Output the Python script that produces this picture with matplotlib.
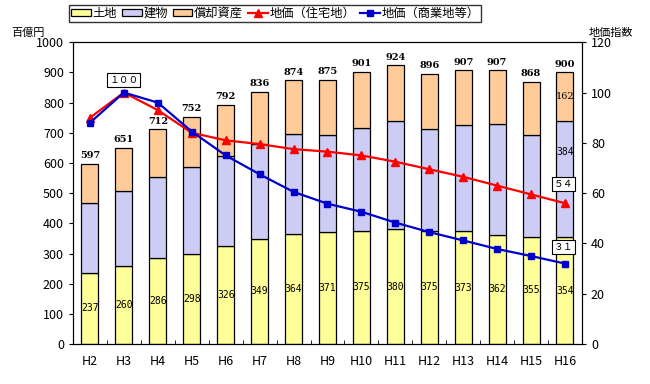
import numpy as np
import matplotlib.pyplot as plt

plt.rcParams['font.family'] = ['Noto Sans CJK JP', 'DejaVu Sans']

years = ["H2", "H3", "H4", "H5", "H6", "H7", "H8", "H9", "H10",
         "H11", "H12", "H13", "H14", "H15", "H16"]
land = [237, 260, 286, 298, 326, 349, 364, 371, 375, 380, 375, 373, 362, 355, 354]
building = [229, 246, 266, 287, 296, 313, 332, 322, 342, 358, 337, 352, 366, 339, 384]
totals = [597, 651, 712, 752, 792, 836, 874, 875, 901, 924, 896, 907, 907, 868, 900]
depreciable = [t - l - b for t, l, b in zip(totals, land, building)]
price_res = [90, 100, 93, 84, 81, 79.5, 77.5, 76.5, 75, 72.5, 69.5, 66.5, 63, 59.5, 56]
price_com = [88, 100, 96, 84.5, 75, 67.5, 60.5, 55.8, 52.6, 48.3, 44.5, 41.2, 37.8, 35, 32]

c_land = "#FFFF99"
c_bld = "#CCCCF5"
c_dep = "#FFCC99"

fig = plt.figure(figsize=(6.5, 3.84), dpi=100)
ax = fig.add_axes([0.1123, 0.104, 0.783, 0.786])
x = np.arange(len(years))
w = 0.5

ax.bar(x, land, w, color=c_land, edgecolor="black", linewidth=0.9, label="土地")
ax.bar(x, building, w, bottom=land, color=c_bld, edgecolor="black", linewidth=0.9, label="建物")
ax.bar(x, depreciable, w, bottom=np.array(land) + np.array(building), color=c_dep,
       edgecolor="black", linewidth=0.9, label="償却資産")

for i in range(len(x)):
    ax.text(x[i], land[i] / 2, str(land[i]), ha="center", va="center", fontsize=7,
            family="DejaVu Sans Mono")
    ax.text(x[i], totals[i] + 12, str(totals[i]), ha="center", va="bottom", fontsize=7,
            fontweight="bold", family="DejaVu Serif")
ax.text(x[-1], 636, str(building[-1]), ha="center", va="center", fontsize=7,
        family="DejaVu Sans Mono")
ax.text(x[-1], land[-1] + building[-1] + depreciable[-1] / 2, str(depreciable[-1]),
        ha="center", va="center", fontsize=7, family="DejaVu Serif")

ax.set_xlim(-0.5, len(x) - 0.5)
ax.set_ylim(0, 1000)
ax.set_yticks(range(0, 1001, 100))
ax.set_xticks(x)
ax.set_xticklabels(years, fontsize=9)
ax.tick_params(axis="x", length=0, pad=8)
ax.set_xticks(np.arange(-0.5, len(x), 1), minor=True)
ax.tick_params(axis="x", which="minor", direction="in", length=3)
ax.tick_params(axis="y", labelsize=9, length=3)

ax2 = ax.twinx()
ax2.plot(x, price_res, color="#FF0000", marker="^", markersize=6, linewidth=1.6,
         label="地価（住宅地）")
ax2.plot(x, price_com, color="#0000CC", marker="s", markersize=4, linewidth=1.6,
         label="地価（商業地等）")
ax2.set_ylim(0, 120)
ax2.set_yticks(range(0, 121, 20))
ax2.tick_params(axis="y", labelsize=9, length=3)

box = dict(boxstyle="square,pad=0.2", facecolor="white", edgecolor="black", linewidth=0.8)
ax2.text(x[1], 105, "１００", ha="center", va="center", fontsize=7, bbox=box)
ax2.text(x[-1] - 0.05, 63.5, "５４", ha="center", va="center", fontsize=7, bbox=box)
ax2.text(x[-1] - 0.05, 38.5, "３１", ha="center", va="center", fontsize=7, bbox=box)

fig.text(0.043, 0.915, "百億円", ha="center", va="center", fontsize=8)
fig.text(0.94, 0.915, "地価指数", ha="center", va="center", fontsize=8)

h1, l1 = ax.get_legend_handles_labels()
h2, l2 = ax2.get_legend_handles_labels()
fig.legend(h1 + h2, l1 + l2, loc="upper left", bbox_to_anchor=(0.105, 0.99), ncol=5,
           fontsize=8.8, frameon=True, fancybox=False, edgecolor="black",
           handlelength=1.6, handleheight=0.55, handletextpad=0.15, columnspacing=0.4,
           borderpad=0.15, borderaxespad=0.1)

fig.savefig("out.png", dpi=100)
